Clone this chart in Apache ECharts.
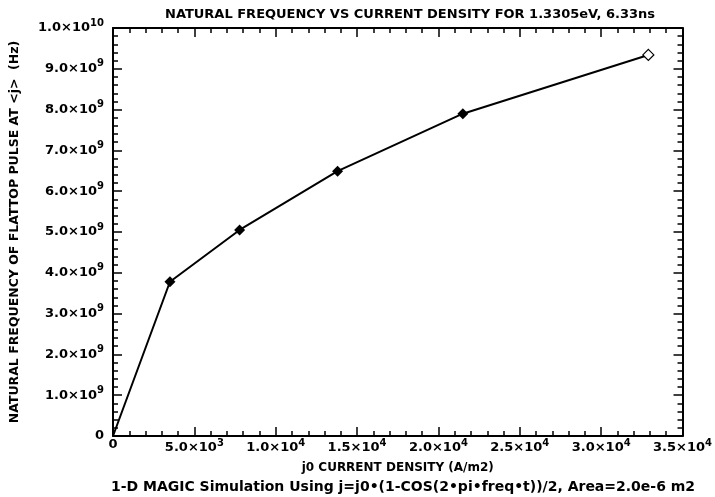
<!DOCTYPE html>
<html>
<head>
<meta charset="utf-8">
<script src="https://cdn.jsdelivr.net/npm/echarts@6/dist/echarts.min.js"></script>
<style>html,body{margin:0;padding:0;background:#fff}#c{width:715px;height:497px}</style>
</head>
<body>
<div id="c"></div>
<script>
// Data
var currentDensity = [0, 3500, 7780, 13800, 21500, 32900];      // A/m2
var naturalFreq   = [0, 3.78e9, 5.05e9, 6.49e9, 7.90e9, 9.34e9]; // Hz
var markerKind    = ['none', 'filled', 'filled', 'filled', 'filled', 'open'];

var xTickValues = [0, 5000, 10000, 15000, 20000, 25000, 30000, 35000];
var xTickMant   = ['0', '5.0×10', '1.0×10', '1.5×10', '2.0×10', '2.5×10', '3.0×10', '3.5×10'];
var xTickExp    = ['', '3', '4', '4', '4', '4', '4', '4'];

var yTickValues = [0,1e9,2e9,3e9,4e9,5e9,6e9,7e9,8e9,9e9,1e10];
var yTickMant   = ['0','1.0×10','2.0×10','3.0×10','4.0×10','5.0×10','6.0×10','7.0×10','8.0×10','9.0×10','1.0×10'];
var yTickExp    = ['','9','9','9','9','9','9','9','9','9','10'];

var titleText = 'NATURAL FREQUENCY VS CURRENT DENSITY FOR 1.3305eV, 6.33ns';
var xName = 'j0 CURRENT DENSITY (A/m2)';
var yName = 'NATURAL FREQUENCY OF FLATTOP PULSE AT <j>  (Hz)';
var noteText = '1-D MAGIC Simulation Using j=j0•(1-COS(2•pi•freq•t))/2, Area=2.0e-6 m2';

var FONT = '"DejaVu Sans", sans-serif';

function fmt(values, mant, exp) {
  return function (v) {
    var i = -1;
    for (var k = 0; k < values.length; k++) if (Math.abs(values[k] - v) < 1e-6 * Math.max(1, Math.abs(v))) i = k;
    if (i < 0) return '';
    if (!exp[i]) return '{m|' + mant[i] + '}';
    return '{m|' + mant[i] + '}{s|' + exp[i] + '}';
  };
}
var rich = {
  m: {fontFamily: FONT, fontSize: 13, fontWeight: 'bold', color: '#000'},
  s: {fontFamily: FONT, fontSize: 10, fontWeight: 'bold', color: '#000', verticalAlign: 'bottom', padding: [0,0,10,0]}
};

var seriesData = currentDensity.map(function (x, i) {
  var d = {value: [x, naturalFreq[i]]};
  if (markerKind[i] === 'none') { d.symbol = 'none'; }
  else if (markerKind[i] === 'open') { d.itemStyle = {color: '#fff', borderColor: '#000', borderWidth: 1.2}; }
  return d;
});

function axisCommon() {
  return {
    axisLine: {show: true, onZero: false, lineStyle: {color: '#000', width: 2}},
    axisTick: {show: true, inside: true, length: 9, lineStyle: {color: '#000', width: 1.5}},
    minorTick: {show: true, splitNumber: 5, length: 5, lineStyle: {color: '#000', width: 1.5}},
    splitLine: {show: false}
  };
}

var chart = echarts.init(document.getElementById('c'), null, {renderer: 'canvas'});
chart.setOption({
  animation: false,
  backgroundColor: '#fff',
  title: [
    {text: titleText, left: 405, top: 3, textAlign: 'center',
     textStyle: {fontFamily: FONT, fontSize: 13, fontWeight: 'bold', color: '#000'}},
    {text: noteText, left: 398, top: 475, textAlign: 'center',
     textStyle: {fontFamily: FONT, fontSize: 14, fontWeight: 'bold', color: '#000'}}
  ],
  grid: {left: 110, right: 28, top: 28, bottom: 61, containLabel: false},
  xAxis: [
    Object.assign(axisCommon(), {
      type: 'value', min: 0, max: 35000, interval: 5000, position: 'bottom',
      name: xName, nameLocation: 'middle', nameGap: 26,
      nameTextStyle: {fontFamily: FONT, fontSize: 12, fontWeight: 'bold', color: '#000'},
      axisLabel: {formatter: fmt(xTickValues, xTickMant, xTickExp), rich: rich, margin: 2, showMaxLabel: true}
    }),
    Object.assign(axisCommon(), {
      type: 'value', min: 0, max: 35000, interval: 5000, position: 'top',
      axisLabel: {show: false}
    })
  ],
  yAxis: [
    Object.assign(axisCommon(), {
      type: 'value', min: 0, max: 1e10, interval: 1e9, position: 'left',
      name: yName, nameLocation: 'middle', nameGap: 92, nameRotate: 90,
      nameTextStyle: {fontFamily: FONT, fontSize: 12.5, fontWeight: 'bold', color: '#000'},
      axisLabel: {formatter: fmt(yTickValues, yTickMant, yTickExp), rich: rich, margin: 9}
    }),
    Object.assign(axisCommon(), {
      type: 'value', min: 0, max: 1e10, interval: 1e9, position: 'right',
      axisLabel: {show: false}
    })
  ],
  series: [{
    type: 'line',
    xAxisIndex: 0, yAxisIndex: 0,
    data: seriesData,
    symbol: 'diamond',
    symbolSize: 11,
    showAllSymbol: true,
    lineStyle: {color: '#000', width: 2},
    itemStyle: {color: '#000'}
  }]
});
</script>
</body>
</html>
